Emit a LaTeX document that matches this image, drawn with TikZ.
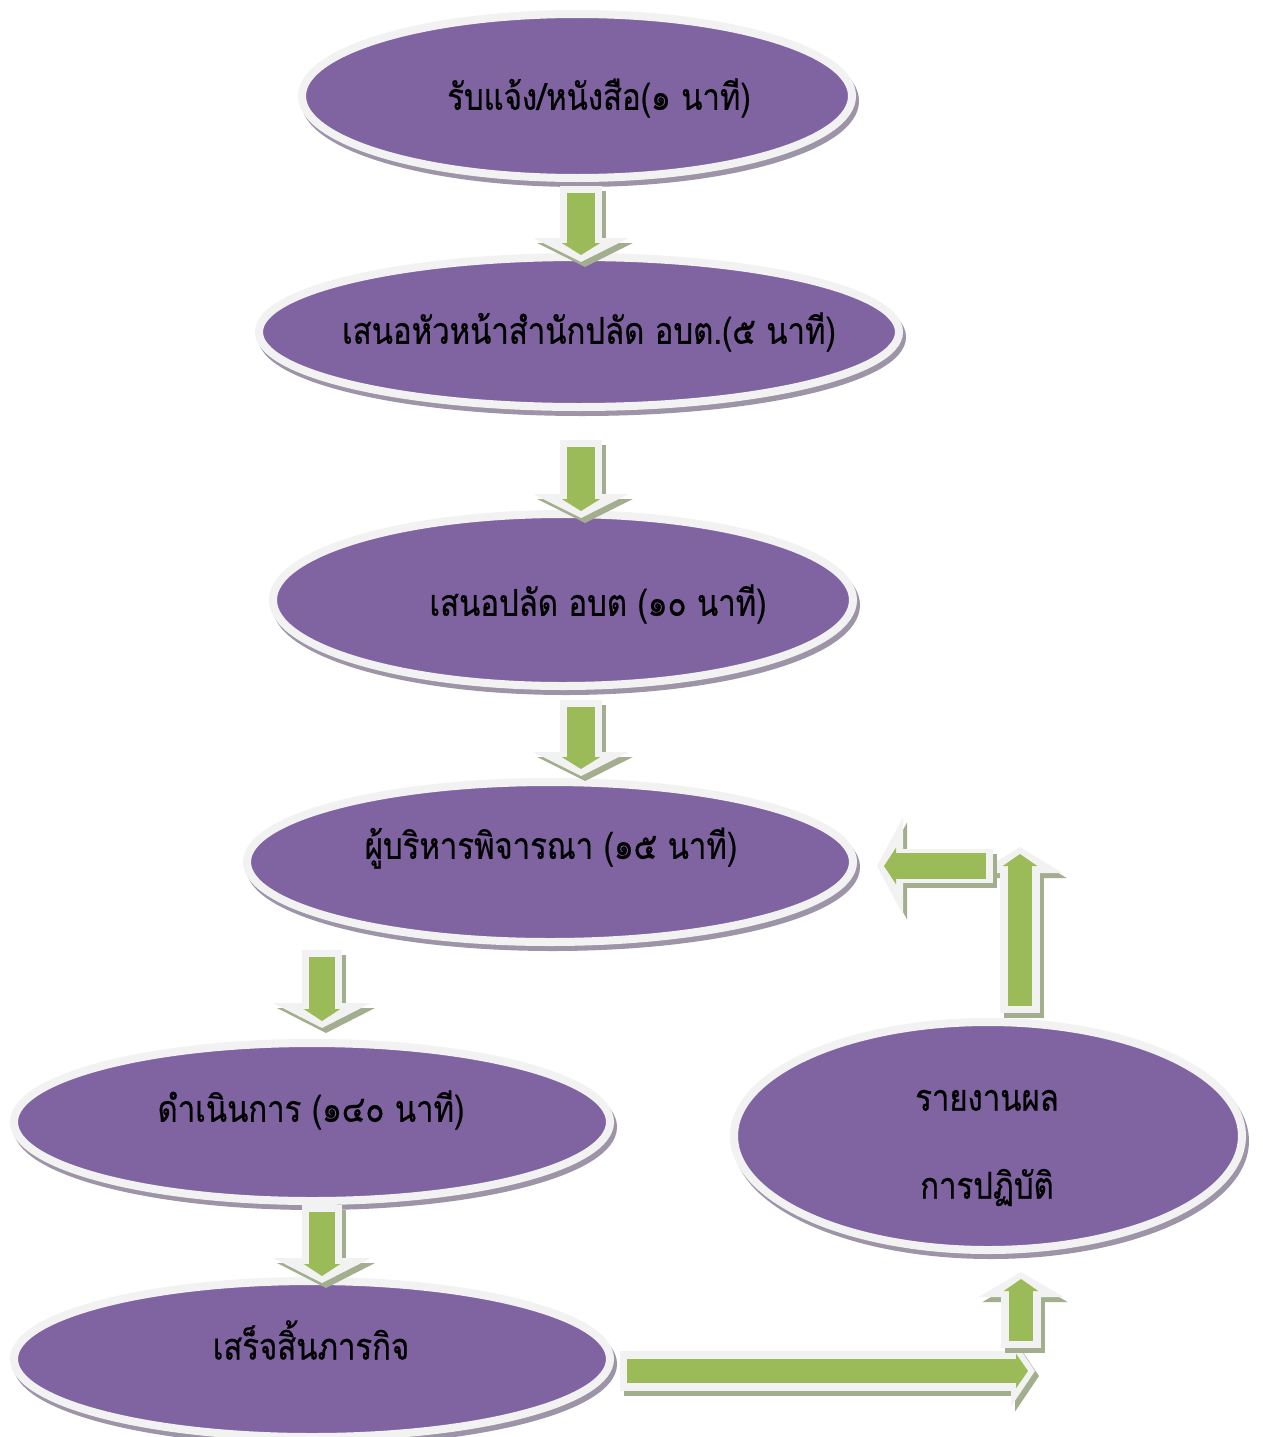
\documentclass[tikz,border=0pt]{standalone}
\usepackage{fontspec}
\newfontfamily\thaifont[Script=Thai, FakeStretch=0.84, FakeBold=0.6]{Loma}
\usetikzlibrary{arrows.meta,shapes.geometric}
\definecolor{ellfill}{HTML}{8064A2}
\definecolor{ellrim}{HTML}{F2F2F2}
\definecolor{ellshadow}{HTML}{9D94A8}
\definecolor{arrgreen}{HTML}{9BBB59}
\definecolor{arrrim}{HTML}{F2F2F2}
\definecolor{arrshadow}{HTML}{A3AE8E}
\tikzset{
  ell/.style={ellipse, fill=ellfill, draw=ellrim, line width=8pt, inner sep=0pt,
    preaction={draw=ellshadow, fill=ellshadow, line width=8pt,
      transform canvas={xshift=3pt, yshift=-5pt}}},
  lbl/.style={font=\thaifont\fontsize{37}{44}\selectfont, text=black, inner sep=0pt, align=center},
}
% block arrow: #1 start, #2 end, #3 white shaft width, #4 white head width, #5 white head length, #6 green shaft width
\newcommand\blockarr[6]{%
  \draw[line width=#3pt, draw=arrshadow, -{Triangle[length=#5pt, width=#4pt]},
    transform canvas={xshift=4pt, yshift=-5pt}] (#1) -- (#2);
  \draw[line width=#3pt, draw=arrrim, -{Triangle[length=#5pt, width=#4pt]}] (#1) -- (#2);
  \draw[line width=#6pt, draw=arrgreen, shorten <=7pt, shorten >=7pt,
    -{Triangle[length=12pt, width=#6pt+10pt]}] (#1) -- (#2);
}
\begin{document}
\begin{tikzpicture}[x=1pt,y=-1pt]
\useasboundingbox[fill=white] (0,0) rectangle (1262,1437);

% ellipses
\node[ell, minimum width=550pt, minimum height=164pt] (e1) at (577,96) {};
\node[ell, minimum width=640pt, minimum height=150pt] (e2) at (579,332) {};
\node[ell, minimum width=580pt, minimum height=172pt] (e3) at (563,600) {};
\node[ell, minimum width=606pt, minimum height=160pt] (e4) at (550,862) {};
\node[ell, minimum width=596pt, minimum height=158pt] (e5) at (312,1122) {};
\node[ell, minimum width=596pt, minimum height=156pt] (e6) at (312,1359) {};
\node[ell, minimum width=508pt, minimum height=228pt] (e7) at (988,1136) {};

% texts
\node[lbl] (t1) at (599,98) {รับแจ้ง/หนังสือ(๑ นาที)};
\node[lbl] (t2) at (589,332) {เสนอหัวหน้าสำนักปลัด อบต.(๕ นาที)};
\node[lbl] (t3) at (598,604) {เสนอปลัด อบต (๑๐ นาที)};
\node[lbl] (t4) at (551,848) {ผู้บริหารพิจารณา (๑๕ นาที)};
\node[lbl] (t5) at (311,1110) {ดำเนินการ (๑๔๐ นาที)};
\node[lbl] (t6) at (311,1340) {เสร็จสิ้นภารกิจ};
\node[lbl, font=\thaifont\fontsize{37}{88}\selectfont] (t7) at (987,1148) {รายงานผล\\การปฏิบัติ};

% arrow end points
\coordinate (a1s) at (581,186);  \coordinate (a1e) at (581,262);
\coordinate (a2s) at (581,440);  \coordinate (a2e) at (581,518);
\coordinate (a3s) at (581,700);  \coordinate (a3e) at (581,776);
\coordinate (a4s) at (322,950);  \coordinate (a4e) at (322,1028);
\coordinate (a5s) at (322,1205); \coordinate (a5e) at (322,1283);
\coordinate (a6s) at (620,1371); \coordinate (a6e) at (1035,1371);
\coordinate (a7s) at (1021,1348); \coordinate (a7e) at (1021,1272);
\coordinate (a8s) at (1020,1013); \coordinate (a8e) at (1020,847);
\coordinate (a9s) at (993,866);  \coordinate (a9e) at (877,866);

\blockarr{a1s}{a1e}{42}{95}{24}{28}
\blockarr{a2s}{a2e}{42}{95}{24}{28}
\blockarr{a3s}{a3e}{42}{95}{24}{28}
\blockarr{a4s}{a4e}{40}{97}{25}{26}
\blockarr{a5s}{a5e}{40}{97}{25}{26}
\blockarr{a6s}{a6e}{40}{70}{24}{24}
\blockarr{a7s}{a7e}{40}{84}{25}{24}
\blockarr{a8s}{a8e}{40}{84}{26}{24}
\blockarr{a9s}{a9e}{34}{96}{26}{26}
\end{tikzpicture}
\end{document}
